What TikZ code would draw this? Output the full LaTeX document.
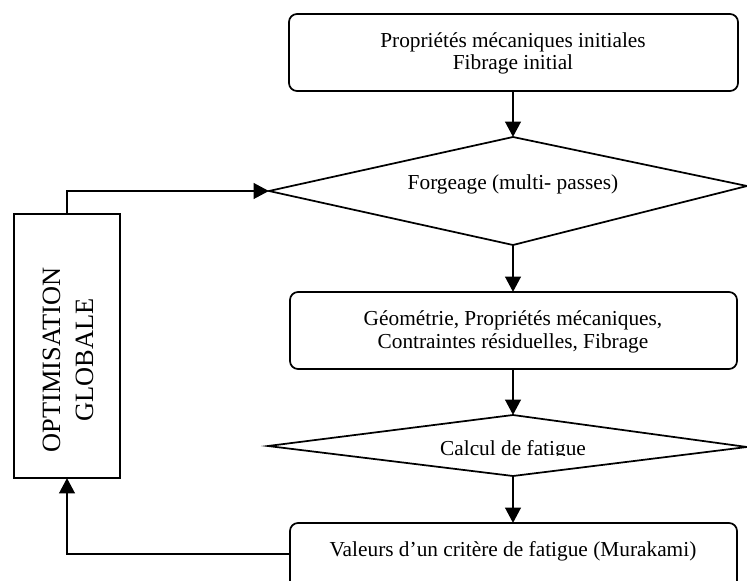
\documentclass[tikz,border=0pt]{standalone}
\usepackage{fontspec}
\setmainfont{Liberation Serif}
\usetikzlibrary{arrows.meta,shapes.geometric}
\tikzset{
 px/.style={x=0.75pt,y=-0.75pt},
 conn/.style={draw=black,line width=2.2pt,-{Triangle[length=11.5pt,width=11.5pt]}},
 outl/.style={draw=black,line width=1.3pt},
 lbl/.style={font=\fontsize{16pt}{17pt}\selectfont,align=center,text=black,inner sep=0pt}
}
\begin{document}
\begin{tikzpicture}[px]
\useasboundingbox (0,0) rectangle (747,581);
\draw[outl,rounded corners=6pt] (289,14) rectangle (738,91);
\node[lbl] (a) at (513,53.5) {Propriétés mécaniques initiales\\Fibrage initial};
\coordinate (atop) at (513,91);
\coordinate (dt) at (513,137);
\coordinate (dl) at (269,191);
\coordinate (dr) at (747,186);
\coordinate (db) at (513,245);
\draw[outl] (dt) -- (dr) -- (db) -- (dl) -- cycle;
\node[lbl] (f) at (513,184) {Forgeage (multi- passes)};
\draw[outl,rounded corners=6pt] (290,292) rectangle (737,369);
\node[lbl] (g) at (513,332) {Géométrie, Propriétés mécaniques,\\Contraintes résiduelles, Fibrage};
\coordinate (gb) at (513,369);
\coordinate (gt) at (513,292);
\coordinate (ct) at (513,415);
\coordinate (cl) at (268,446);
\coordinate (cr) at (747,447);
\coordinate (cb) at (513,476);
\draw[outl] (ct) -- (cr) -- (cb) -- (cl) -- cycle;
\begin{scope}
\clip (400,430) rectangle (630,455);
\node[lbl,anchor=base] (c) at (513,455) {Calcul de fatigue};
\end{scope}
\draw[outl,rounded corners=6pt] (290,590) -- (290,523) -- (737,523) -- (737,590);
\node[lbl] (v) at (513,551) {Valeurs d’un critère de fatigue (Murakami)};
\coordinate (vt) at (513,523);
\coordinate (vl) at (290,554);
\draw[outl] (14,214) rectangle (120,478);
\node[lbl,rotate=90,font=\fontsize{19.8pt}{24.75pt}\selectfont] (o) at (68,360) {OPTIMISATION\\GLOBALE};
\coordinate (ot) at (67,214);
\coordinate (ob) at (67,478);
\draw[conn] (atop) -- (dt);
\draw[conn] (db) -- (gt);
\draw[conn] (gb) -- (ct);
\draw[conn] (cb) -- (vt);
\draw[conn] (vl) -| (ob);
\draw[conn] (ot) |- (dl);
\end{tikzpicture}
\end{document}
